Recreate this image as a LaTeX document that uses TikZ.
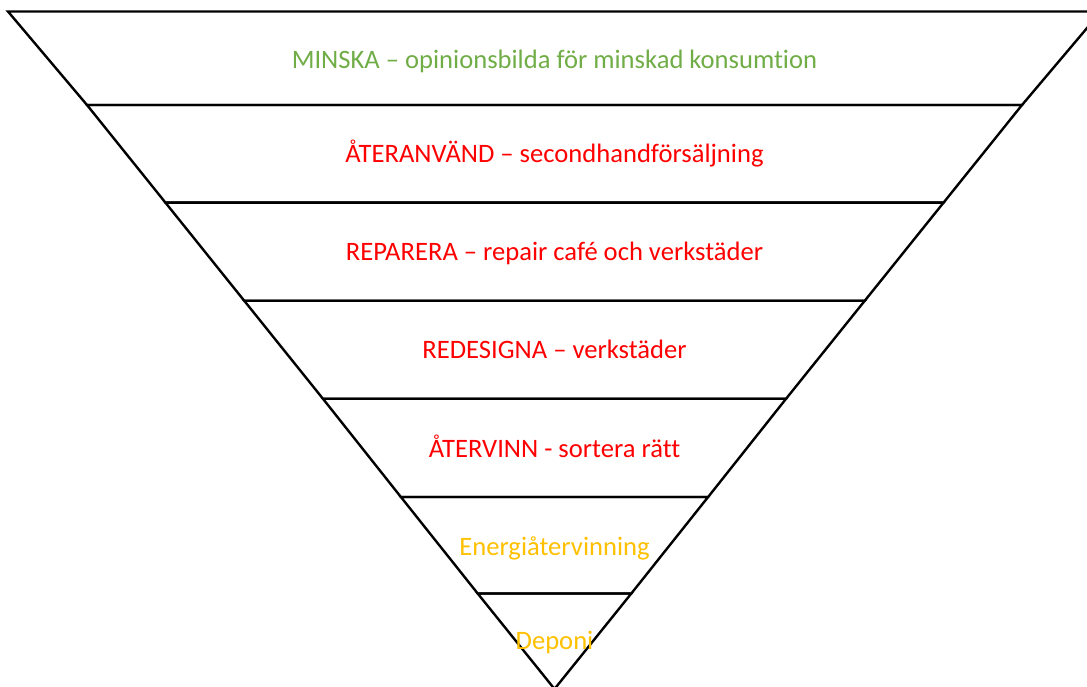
\documentclass[tikz,border=0pt]{standalone}
\usepackage{fontspec}
\setmainfont{Carlito}[Ligatures={NoCommon}]
\definecolor{mgreen}{HTML}{70AD47}
\definecolor{mred}{HTML}{FF0000}
\definecolor{morange}{HTML}{FFC000}
\begin{document}
\begin{tikzpicture}[x=1pt,y=-1pt,
  band/.style={draw=black,line width=2.4pt,line join=miter},
  lbl/.style={font=\fontsize{26.6}{30}\selectfont,anchor=base,inner sep=0pt}]
\useasboundingbox (0,0) rectangle (1087,687);
\begin{scope}
\clip (0,0) rectangle (1087,687);
% band 1
\draw[band] (8,11.5) -- (1101,11.5) -- (1022,105) -- (87,105) -- cycle;
% bands 2..7
\draw[band] (87,105) -- (1022,105) -- (943.5,202.7) -- (165.5,202.7) -- cycle;
\draw[band] (165.5,202.7) -- (943.5,202.7) -- (864.8,300.7) -- (244.2,300.7) -- cycle;
\draw[band] (244.2,300.7) -- (864.8,300.7) -- (786.1,398.7) -- (322.9,398.7) -- cycle;
\draw[band] (322.9,398.7) -- (786.1,398.7) -- (708.1,497) -- (400.9,497) -- cycle;
\draw[band] (400.9,497) -- (708.1,497) -- (631.3,593.5) -- (477.7,593.5) -- cycle;
\draw[band] (477.7,593.5) -- (631.3,593.5) -- (554.5,689) -- cycle;
\end{scope}
\node[lbl,text=mgreen] (t1) at (554.5,68.7) {MINSKA – opinionsbilda för minskad konsumtion};
\node[lbl,text=mred] (t2) at (554.5,163) {ÅTERANVÄND – secondhandförsäljning};
\node[lbl,text=mred] (t3) at (554.5,260.3) {REPARERA – repair café och verkstäder};
\node[lbl,text=mred] (t4) at (554.5,358.7) {REDESIGNA – verkstäder};
\node[lbl,text=mred] (t5) at (554.5,457) {ÅTERVINN - sortera rätt};
\node[lbl,text=morange] (t6) at (554.5,555) {Energiåtervinning};
\node[lbl,text=morange] (t7) at (554.5,649.5) {Deponi};
\end{tikzpicture}
\end{document}
